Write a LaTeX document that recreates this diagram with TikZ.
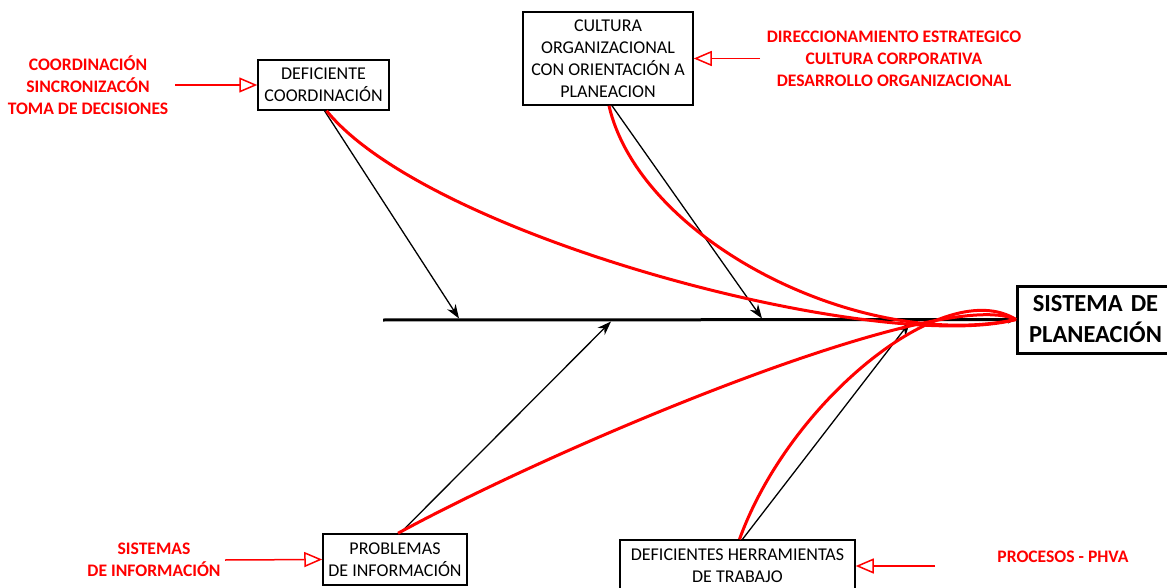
\documentclass[tikz,border=0pt]{standalone}
\usepackage{fontspec}
\setmainfont{Carlito}
\usetikzlibrary{arrows.meta}

\tikzset{
  box/.style={draw, line width=1.5pt, align=center, inner sep=0pt,
    font=\fontsize{18}{22}\selectfont},
  bigbox/.style={draw, line width=3pt, align=center, inner sep=0pt,
    font=\bfseries\fontsize{24.5}{31}\selectfont},
  note/.style={text=red, align=center, inner sep=0pt,
    font=\bfseries\fontsize{17.6}{22}\selectfont},
  feed/.style={draw=red, line width=1.5pt,
    -{Triangle[open, fill=white, length=18pt, width=15pt]}},
  cause/.style={draw, line width=1.3pt, -{Stealth[length=14pt, width=10pt]}},
  spine/.style={draw, line width=3pt, -{Stealth[length=8pt, width=8pt]}},
  link/.style={draw=red, line width=3pt},
}

\begin{document}
\begin{tikzpicture}[x=1pt, y=-1pt]
\useasboundingbox (0,0) rectangle (1167,588);

% cause boxes and effect box
\node[box, minimum width=131pt, minimum height=50pt] (coord) at (323.5,85)
  {DEFICIENTE\\COORDINACIÓN};
\node[box, minimum width=170pt, minimum height=93pt] (cult) at (608,58.5)
  {CULTURA\\ORGANIZACIONAL\\CON ORIENTACIÓN A\\PLANEACION};
\node[box, minimum width=144pt, minimum height=51pt] (prob) at (395,559.5)
  {PROBLEMAS\\DE INFORMACIÓN};
\node[box, minimum width=235pt, minimum height=52pt] (herr) at (737.5,566)
  {DEFICIENTES HERRAMIENTAS\\DE TRABAJO};
\node[bigbox, minimum width=160pt, minimum height=67pt, anchor=west,
  text width=150pt] (sis) at (1016,319.5)
  {\hspace*{-4pt}SISTEMA DE\\\hspace*{-4pt}PLANEACIÓN};

% red notes with their feeding arrows
\node[note] (n1) at (88,85) {COORDINACIÓN\\SINCRONIZACÓN\\TOMA DE DECISIONES};
\node[note] (n2) at (894,58.5) {DIRECCIONAMIENTO ESTRATEGICO\\CULTURA CORPORATIVA\\DESARROLLO ORGANIZACIONAL};
\node[note] (n3) at (154,560) {SISTEMAS\\DE INFORMACIÓN};
\node[note] (n4) at (1063,557) {PROCESOS - PHVA};

\coordinate (f1) at (175,85);
\coordinate (f2) at (760,58.5);
\coordinate (f3) at (225,560);
\coordinate (f4) at (935,566);
\draw[feed] (f1) -- (coord.west);
\draw[feed] (f2) -- (cult.east);
\draw[feed] (f3) -- (prob.west);
\draw[feed] (f4) -- (herr.east);

% spine and branch arrows
\coordinate (tail) at (383,320);
\draw[spine] (tail) -- (sis.west);
\coordinate (s1) at (459,318.5);
\coordinate (s2) at (762,318.5);
\coordinate (s3) at (611,321.5);
\coordinate (s4) at (910,322);
\draw[cause] ([xshift=1pt]coord.south) -- (s1);
\draw[cause] ([xshift=4pt]cult.south) -- (s2);
\draw[cause] ([xshift=5pt]prob.north) -- (s3);
\draw[cause] ([xshift=5pt]herr.north) -- (s4);

% red relation curves into the effect
\draw[link] ([xshift=3pt]coord.south) .. controls (430,238) and (880,355) .. (sis.west);
\draw[link] ([xshift=1pt]cult.south) .. controls (640,240) and (860,352) .. (sis.west);
\draw[link] ([xshift=3pt]prob.north) .. controls (560,445) and (940,285) .. (sis.west);
\draw[link] ([xshift=2pt]herr.north) .. controls (790,400) and (945,275) .. (sis.west);
\end{tikzpicture}
\end{document}
